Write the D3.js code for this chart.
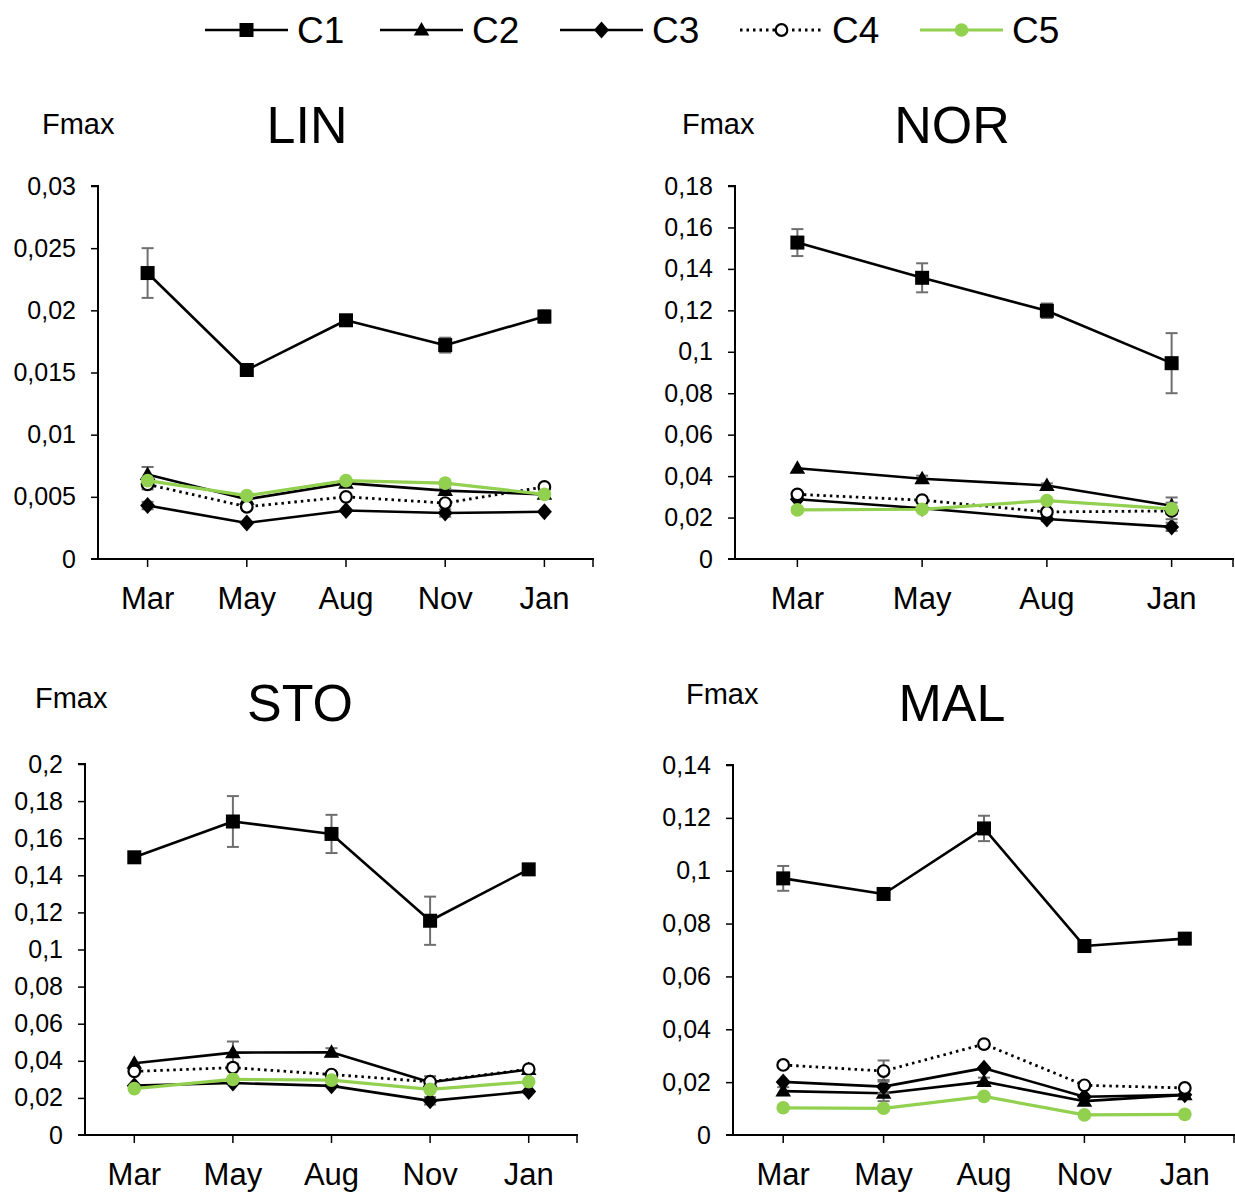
<!DOCTYPE html>
<html>
<head>
<meta charset="utf-8">
<script src="https://cdn.jsdelivr.net/npm/d3@7"></script>
<style>
  html, body { margin: 0; padding: 0; background: #fff; }
  svg { display: block; font-family: "Liberation Sans", Arial, sans-serif; }
</style>
</head>
<body>
<svg id="chart" width="1235" height="1192"></svg>
<script>
// ---- data -------------------------------------------------------------
const seriesNames = ["C1", "C2", "C3", "C4", "C5"];
const monthsFive = ["Mar", "May", "Aug", "Nov", "Jan"];
const monthsFour = ["Mar", "May", "Aug", "Jan"];

// LIN
const linC1 = [0.0230, 0.0152, 0.0192, 0.0172, 0.0195];
const linC2 = [0.0068, 0.0048, 0.0061, 0.0055, 0.0052];
const linC3 = [0.0043, 0.0029, 0.0039, 0.0037, 0.0038];
const linC4 = [0.0060, 0.0042, 0.0050, 0.0045, 0.0058];
const linC5 = [0.0063, 0.0051, 0.0063, 0.0061, 0.0052];
const linErrC1 = [0.0020, 0, 0.0002, 0.0006, 0.0005];
const linErrC2 = [0.0006, 0, 0.0002, 0.0002, 0];
const linErrC3 = [0.0003, 0, 0, 0.0003, 0];
const linErrC4 = [0.0004, 0, 0, 0, 0];
const linErrC5 = [0, 0, 0, 0, 0];
const linTicks = [0, 0.005, 0.01, 0.015, 0.02, 0.025, 0.03];

// NOR
const norC1 = [0.1527, 0.1357, 0.1198, 0.0945];
const norC2 = [0.0438, 0.0387, 0.0355, 0.0257];
const norC3 = [0.0288, 0.0245, 0.0193, 0.0155];
const norC4 = [0.0312, 0.0284, 0.0227, 0.0232];
const norC5 = [0.0237, 0.0240, 0.0282, 0.0242];
const norErrC1 = [0.0065, 0.0070, 0.0035, 0.0145];
const norErrC2 = [0, 0.0015, 0.0010, 0.0040];
const norErrC3 = [0, 0, 0.0010, 0.0020];
const norErrC4 = [0, 0, 0, 0.0040];
const norErrC5 = [0.0010, 0, 0, 0];
const norTicks = [0, 0.02, 0.04, 0.06, 0.08, 0.1, 0.12, 0.14, 0.16, 0.18];

// STO
const stoC1 = [0.1497, 0.1690, 0.1623, 0.1155, 0.1432];
const stoC2 = [0.0387, 0.0444, 0.0446, 0.0284, 0.0353];
const stoC3 = [0.0266, 0.0280, 0.0265, 0.0184, 0.0235];
const stoC4 = [0.0343, 0.0363, 0.0326, 0.0287, 0.0355];
const stoC5 = [0.0250, 0.0300, 0.0296, 0.0246, 0.0287];
const stoErrC1 = [0, 0.0137, 0.0103, 0.0130, 0];
const stoErrC2 = [0, 0.0060, 0.0022, 0, 0];
const stoErrC3 = [0, 0, 0, 0.0020, 0];
const stoErrC4 = [0, 0, 0, 0.0030, 0];
const stoErrC5 = [0, 0, 0, 0, 0];
const stoTicks = [0, 0.02, 0.04, 0.06, 0.08, 0.1, 0.12, 0.14, 0.16, 0.18, 0.2];

// MAL
const malC1 = [0.0971, 0.0912, 0.1160, 0.0715, 0.0743];
const malC2 = [0.0166, 0.0158, 0.0202, 0.0128, 0.0152];
const malC3 = [0.0201, 0.0183, 0.0253, 0.0145, 0.0152];
const malC4 = [0.0265, 0.0242, 0.0344, 0.0188, 0.0178];
const malC5 = [0.0103, 0.0101, 0.0146, 0.0076, 0.0078];
const malErrC1 = [0.0047, 0, 0.0048, 0, 0];
const malErrC2 = [0.0015, 0.0030, 0.0015, 0, 0];
const malErrC3 = [0, 0.0025, 0, 0, 0];
const malErrC4 = [0, 0.0040, 0, 0, 0];
const malErrC5 = [0, 0, 0, 0, 0];
const malTicks = [0, 0.02, 0.04, 0.06, 0.08, 0.1, 0.12, 0.14];

// ---- panel layout -----------------------------------------------------
const panels = [
  { title: "LIN", cats: monthsFive, ticks: linTicks,
    values: [linC1, linC2, linC3, linC4, linC5],
    errors: [linErrC1, linErrC2, linErrC3, linErrC4, linErrC5],
    x0: 98, x1: 594, yb: 559, yt: 186,
    titleX: 307, titleY: 143, fmaxX: 42, fmaxY: 134 },
  { title: "NOR", cats: monthsFour, ticks: norTicks,
    values: [norC1, norC2, norC3, norC4, norC5],
    errors: [norErrC1, norErrC2, norErrC3, norErrC4, norErrC5],
    x0: 735, x1: 1234, yb: 559, yt: 186,
    titleX: 952, titleY: 143, fmaxX: 682, fmaxY: 134 },
  { title: "STO", cats: monthsFive, ticks: stoTicks,
    values: [stoC1, stoC2, stoC3, stoC4, stoC5],
    errors: [stoErrC1, stoErrC2, stoErrC3, stoErrC4, stoErrC5],
    x0: 85, x1: 578, yb: 1135, yt: 764,
    titleX: 300, titleY: 721, fmaxX: 35, fmaxY: 708 },
  { title: "MAL", cats: monthsFive, ticks: malTicks,
    values: [malC1, malC2, malC3, malC4, malC5],
    errors: [malErrC1, malErrC2, malErrC3, malErrC4, malErrC5],
    x0: 733, x1: 1235, yb: 1135, yt: 765,
    titleX: 952, titleY: 721, fmaxX: 686, fmaxY: 704 }
];

// ---- styles -----------------------------------------------------------
const GREEN = "#92d050";
const styles = [
  { stroke: "#000", width: 2.6, dash: null, marker: "square" },
  { stroke: "#000", width: 2.6, dash: null, marker: "triangle" },
  { stroke: "#000", width: 2.6, dash: null, marker: "diamond" },
  { stroke: "#000", width: 2.8, dash: "2.5,4", marker: "open" },
  { stroke: GREEN, width: 3.2, dash: null, marker: "green" }
];

const commaFormat = d3.formatLocale({ decimal: ",", thousands: ".", grouping: [3], currency: ["", ""] }).format("~g");

const svg = d3.select("#chart");

function drawMarker(g, kind, cx, cy) {
  if (kind === "square") {
    g.append("rect").attr("x", cx - 7).attr("y", cy - 7)
      .attr("width", 14).attr("height", 14).attr("fill", "#000");
  } else if (kind === "triangle") {
    g.append("path").attr("d", d3.symbol(d3.symbolTriangle, 105)())
      .attr("transform", `translate(${cx},${cy + 1})`).attr("fill", "#000");
  } else if (kind === "diamond") {
    g.append("path").attr("d", `M${cx},${cy - 8.5}L${cx + 7.5},${cy}L${cx},${cy + 8.5}L${cx - 7.5},${cy}Z`)
      .attr("fill", "#000");
  } else if (kind === "open") {
    g.append("circle").attr("cx", cx).attr("cy", cy).attr("r", 5.8)
      .attr("fill", "#fff").attr("stroke", "#000").attr("stroke-width", 2.2);
  } else if (kind === "green") {
    g.append("circle").attr("cx", cx).attr("cy", cy).attr("r", 6.8).attr("fill", GREEN);
  }
}

panels.forEach(p => {
  const g = svg.append("g");
  const x = d3.scaleBand().domain(p.cats).range([p.x0, p.x1]).paddingInner(0).paddingOuter(0);
  const cx = c => x(c) + x.bandwidth() / 2;
  const y = d3.scaleLinear().domain([0, p.ticks[p.ticks.length - 1]]).range([p.yb, p.yt]);

  // y axis
  const yAxis = d3.axisLeft(y).tickValues(p.ticks).tickSize(7).tickPadding(15).tickFormat(commaFormat);
  const ya = g.append("g").attr("transform", `translate(${p.x0},0)`).call(yAxis);
  ya.select(".domain").attr("stroke", "#000").attr("stroke-width", 2).attr("d", `M-7,${p.yt}H0V${p.yb}`);
  ya.selectAll(".tick line").attr("stroke", "#000").attr("stroke-width", 1.5);
  ya.selectAll(".tick text").attr("font-size", 25).attr("fill", "#000")
    .attr("font-family", "'Liberation Sans', Arial, sans-serif");
  ya.selectAll(".tick").filter(d => d === 0).select("line").remove();

  // x axis: ticks at category centres plus the far end
  const xa = g.append("g").attr("transform", `translate(0,${p.yb})`);
  xa.append("line").attr("x1", p.x0 - 7).attr("x2", p.x1).attr("y1", 0).attr("y2", 0)
    .attr("stroke", "#000").attr("stroke-width", 2);
  xa.selectAll("line.tk").data(p.cats.map(cx).concat([p.x1 - 1])).join("line").attr("class", "tk")
    .attr("x1", d => d).attr("x2", d => d).attr("y1", 0).attr("y2", 8)
    .attr("stroke", "#000").attr("stroke-width", 1.5);
  xa.selectAll("text").data(p.cats).join("text")
    .attr("x", cx).attr("y", 50).attr("text-anchor", "middle")
    .attr("font-size", 31).attr("fill", "#000").text(d => d);

  // titles
  g.append("text").attr("x", p.titleX).attr("y", p.titleY).attr("text-anchor", "middle")
    .attr("font-size", 52).attr("fill", "#000").text(p.title);
  g.append("text").attr("x", p.fmaxX).attr("y", p.fmaxY)
    .attr("font-size", 29).attr("fill", "#000").text("Fmax");

  // series
  p.values.forEach((vals, si) => {
    const st = styles[si];
    const pts = vals.map((v, i) => [cx(p.cats[i]), y(v)]);
    const line = d3.line();
    g.append("path").attr("d", line(pts)).attr("fill", "none")
      .attr("stroke", st.stroke).attr("stroke-width", st.width)
      .attr("stroke-dasharray", st.dash)
      .attr("stroke-linejoin", "round");
    // error bars
    const errs = p.errors[si];
    vals.forEach((v, i) => {
      const e = errs[i];
      if (!e) return;
      const px = cx(p.cats[i]);
      const yTop = y(v + e), yBot = y(v - e);
      const eb = g.append("g").attr("stroke", "#6f6f6f").attr("stroke-width", 2);
      eb.append("line").attr("x1", px).attr("x2", px).attr("y1", yTop).attr("y2", yBot);
      eb.append("line").attr("x1", px - 6).attr("x2", px + 6).attr("y1", yTop).attr("y2", yTop);
      eb.append("line").attr("x1", px - 6).attr("x2", px + 6).attr("y1", yBot).attr("y2", yBot);
    });
    pts.forEach(([px, py]) => drawMarker(g, st.marker, px, py));
  });
});

// ---- legend -----------------------------------------------------------
const legendX = [205, 380, 560, 740, 920];
const legend = svg.append("g");
seriesNames.forEach((name, i) => {
  const st = styles[i];
  const lx = legendX[i];
  const ly = 30;
  legend.append("line").attr("x1", lx).attr("x2", lx + 83).attr("y1", ly).attr("y2", ly)
    .attr("stroke", st.stroke).attr("stroke-width", st.width)
    .attr("stroke-dasharray", st.dash);
  drawMarker(legend, st.marker, lx + 41.5, ly);
  legend.append("text").attr("x", lx + 92).attr("y", ly + 13)
    .attr("font-size", 37).attr("fill", "#000").text(name);
});
</script>
</body>
</html>
